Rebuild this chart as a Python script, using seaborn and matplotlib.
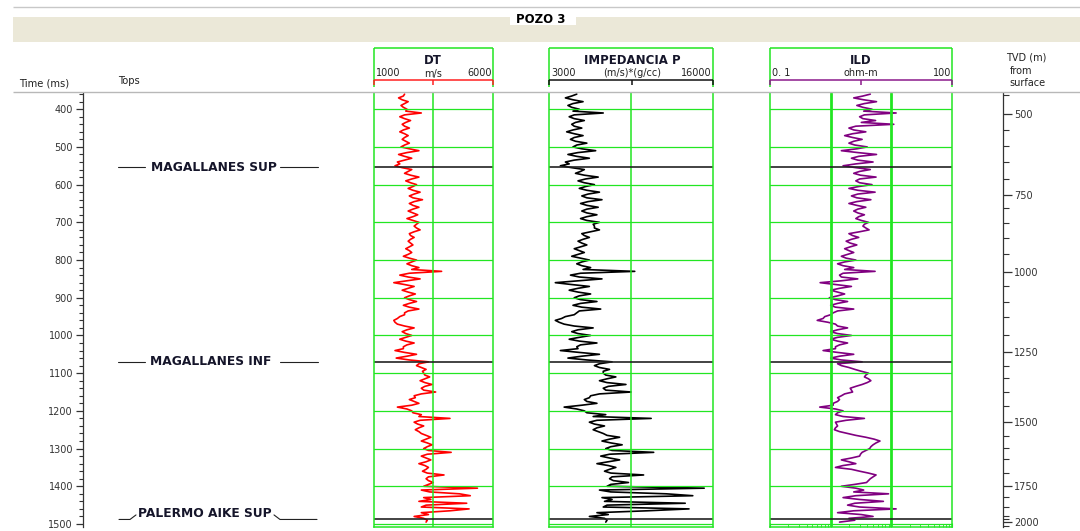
import numpy as np
import pandas as pd
import matplotlib
matplotlib.use("Agg")
import matplotlib.pyplot as plt
import matplotlib.transforms as mtransforms
from matplotlib.lines import Line2D
from matplotlib.patches import Rectangle
from matplotlib.ticker import MultipleLocator
import seaborn as sns

W, H = 1080, 531

# ---------------- data (5 ms samples) ----------------
time_ms = list(range(360, 1500, 5))

dt_vel = [2300, 2250, 2050, 2200, 2450, 2300, 2150, 2250, 2400, 2350,
          3000, 2300, 2100, 2300, 2550, 2350, 2200, 2300, 2500, 2250,
          2100, 2300, 2450, 2300, 2200, 2350, 2500, 2300, 2150, 2500,
          2900, 2400, 2050, 2300, 2600, 2300, 2000, 2100, 1900, 2200,
          2600, 2450, 2300, 2550, 2900, 2600, 2350, 2550, 2800, 2650,
          2450, 2650, 2950, 2700, 2500, 2650, 3050, 2700, 2500, 2650,
          2900, 2650, 2450, 2650, 2850, 2650, 2400, 2650, 2900, 2800,
          2700, 2800, 2950, 2700, 2500, 2550, 2700, 2550, 2450, 2550,
          2650, 2500, 2350, 2500, 2600, 2450, 2250, 2500, 2800, 2600,
          2400, 2600, 2900, 2600, 3850, 2500, 2100, 2450, 2950, 2400,
          1850, 2300, 2700, 2450, 2200, 2450, 2750, 2500, 2300, 2500,
          2800, 2500, 2250, 2500, 2900, 2450, 2300, 2300, 2100, 2000,
          1850, 1900, 2000, 2300, 2700, 2400, 2200, 2350, 2600, 2350,
          2100, 2350, 2700, 2400, 2250, 2250, 1900, 2300, 2800, 2400,
          1950, 2500, 3300, 2900, 2800, 3000, 3200, 3050, 3100, 3150,
          3350, 3150, 2950, 3150, 3450, 3150, 3000, 3100, 3600, 3000,
          2700, 2750, 2500, 2700, 2900, 2600, 2000, 2400, 2600, 2650,
          3000, 2900, 4200, 2950, 2700, 2850, 3100, 2900, 2750, 2900,
          3000, 3200, 3400, 3200, 3000, 3250, 3450, 3250, 3100, 3300,
          4250, 3250, 3000, 3200, 3400, 3200, 2900, 3150, 3300, 3200,
          3050, 3250, 3950, 3300, 3200, 3300, 3500, 3300, 3100, 5350,
          3000, 3350, 4600, 5050, 3100, 3400, 2900, 4900, 3200, 3000,
          5000, 4200, 3000, 3300, 2700, 3100, 3250, 3200]

imp_p = [5200, 4800, 4300, 4900, 5700, 4900, 4500, 4800, 5400, 4900,
         7300, 5000, 4600, 5000, 5800, 5100, 4800, 5000, 5600, 4900,
         4400, 5000, 5700, 5000, 4700, 5100, 6000, 5200, 4900, 5600,
         6700, 5300, 4500, 5200, 6200, 5000, 4300, 4600, 3900, 4800,
         5800, 5500, 5100, 5800, 6900, 5900, 5300, 5800, 6600, 5900,
         5400, 6000, 7000, 6100, 5600, 6000, 7200, 6100, 5500, 6000,
         6900, 6000, 5600, 6000, 6800, 6000, 5500, 6000, 7000, 6500,
         6600, 6600, 7000, 6300, 5600, 5800, 6200, 5700, 5300, 5600,
         6000, 5500, 5000, 5400, 5800, 5300, 4800, 5500, 6200, 5600,
         5200, 5600, 6300, 5700, 9800, 5500, 4700, 5400, 7200, 5300,
         3500, 4800, 6200, 5300, 4600, 5300, 6300, 5400, 5000, 5500,
         6800, 5500, 4900, 5600, 7100, 5400, 5200, 5000, 4300, 4000,
         3500, 3800, 4200, 5000, 6500, 5300, 4800, 5300, 6300, 5400,
         4600, 5400, 6800, 5500, 5200, 5300, 3900, 5400, 7000, 5600,
         4500, 6000, 8000, 7000, 6600, 7000, 7800, 7300, 7300, 7500,
         8300, 7600, 7000, 7600, 9100, 7700, 7300, 7500, 9500, 7000,
         6300, 6200, 5800, 6000, 6800, 5600, 4200, 5200, 5800, 6000,
         7500, 6500, 11100, 6800, 6200, 6600, 7400, 6800, 6500, 6900,
         7300, 7600, 8600, 7800, 7200, 7900, 8800, 7900, 7500, 8000,
         11300, 7800, 7100, 7800, 8600, 7700, 6800, 7700, 8300, 7800,
         7400, 7900, 10500, 8000, 7800, 8100, 9300, 7900, 7600, 15300,
         7000, 7900, 12300, 14400, 7200, 8000, 7400, 13800, 7600, 7300,
         14100, 10800, 6800, 7700, 6200, 7400, 7600, 7500]

ild = [4.5, 3.4, 2.4, 3.5, 5.7, 3.6, 2.7, 3.4, 4.8, 3.5,
       12.0, 3.6, 3.0, 3.4, 5.5, 3.2, 11.0, 2.6, 2.0, 2.4,
       3.8, 2.3, 1.7, 2.3, 3.3, 2.4, 2.0, 2.5, 4.0, 2.7,
       1.5, 2.8, 5.7, 2.9, 2.2, 2.8, 5.0, 2.6, 1.6, 2.6,
       4.5, 3.0, 2.4, 3.1, 5.6, 3.0, 2.6, 3.0, 4.8, 2.9,
       2.0, 2.8, 5.4, 2.8, 2.2, 2.7, 4.6, 2.7, 2.0, 2.7,
       3.8, 2.8, 2.4, 2.8, 3.6, 2.9, 2.6, 3.2, 4.2, 3.6,
       3.4, 3.8, 4.3, 3.0, 2.0, 2.3, 2.9, 2.2, 1.8, 2.1,
       2.7, 2.1, 1.7, 2.0, 2.4, 1.9, 1.5, 1.8, 2.6, 1.7,
       1.3, 1.6, 2.4, 1.7, 5.4, 1.6, 1.4, 1.5, 2.8, 1.5,
       0.67, 1.2, 2.2, 1.4, 1.0, 1.3, 1.7, 1.3, 0.95, 1.2,
       1.9, 1.3, 1.0, 1.2, 2.4, 1.3, 1.1, 1.0, 0.8, 0.75,
       0.6, 0.9, 1.2, 1.3, 1.9, 1.3, 1.0, 1.3, 2.2, 1.3,
       1.0, 1.3, 1.9, 1.4, 1.2, 1.2, 0.75, 1.3, 2.4, 1.4,
       1.0, 1.5, 3.3, 1.3, 1.5, 2.0, 2.5, 3.2, 4.2, 3.8,
       3.6, 4.2, 4.6, 4.0, 3.3, 2.6, 2.1, 2.2, 2.3, 1.7,
       1.5, 1.3, 1.4, 1.3, 1.1, 1.1, 0.66, 1.2, 1.6, 1.3,
       1.2, 1.6, 3.6, 1.8, 1.2, 1.25, 1.3, 1.2, 1.15, 1.4,
       1.9, 2.6, 3.8, 5.2, 6.5, 5.6, 5.0, 4.6, 4.4, 3.8,
       3.3, 3.1, 3.0, 2.2, 1.5, 2.0, 2.6, 1.6, 1.2, 2.2,
       3.0, 4.2, 5.6, 5.0, 4.5, 4.2, 3.9, 2.5, 1.5, 2.6,
       3.5, 2.4, 9.0, 2.6, 1.6, 3.0, 7.4, 2.5, 1.9, 3.0,
       12.0, 2.4, 1.3, 3.2, 5.0, 2.0, 2.5, 1.4]

tops_names = ["MAGALLANES SUP", "MAGALLANES INF", "PALERMO AIKE SUP"]
tops_time = [554, 1070, 1488]

time_ticks = [400, 500, 600, 700, 800, 900, 1000, 1100, 1200, 1300, 1400, 1500]

tvd_depth = [450, 500, 550, 600, 650, 700, 750, 800, 850, 900, 950, 1000,
             1050, 1100, 1150, 1200, 1250, 1300, 1350, 1400, 1450, 1500,
             1550, 1600, 1650, 1700, 1750, 1800, 1850, 1900, 1950, 2000, 2050]
tvd_time = [362, 413, 455, 497, 541, 584, 627, 663, 703, 742, 784, 831,
            869, 910, 952, 999, 1043, 1081, 1114, 1149, 1187, 1230,
            1266, 1298, 1328, 1364, 1398, 1429, 1456, 1478, 1487, 1495, 1506]

track_titles = ["DT", "IMPEDANCIA P", "ILD"]
track_units = ["m/s", "(m/s)*(g/cc)", "ohm-m"]
track_lo = ["1000", "3000", "0. 1"]
track_hi = ["6000", "16000", "100"]
dt_range = (1000, 6000)
imp_range = (3000, 16000)
ild_range = (0.1, 100)

assert len(dt_vel) == len(time_ms) == len(imp_p) == len(ild)

# ---------------- figure ----------------
sns.set_theme(style="white")
plt.rcParams['font.family'] = ['DejaVu Sans']

fig = plt.figure(figsize=(W / 100, H / 100), dpi=100)
fig.patch.set_facecolor('white')
pix = mtransforms.Affine2D().scale(1 / W, -1 / H).translate(0, 1) + fig.transFigure

GREEN = '#22e622'
TXT = '#15152a'
YLIM = (1508, 357)
CURVE_LW = 1.2


def ax_at(x0, x1, y0=93, y1=527):
    return fig.add_axes([x0 / W, 1 - y1 / H, (x1 - x0) / W, (y1 - y0) / H])


def hline(x0, x1, y, color, lw):
    fig.add_artist(Line2D([x0, x1], [y, y], transform=pix, color=color, lw=lw,
                          solid_capstyle='butt'))


def vline(x, y0, y1, color, lw):
    fig.add_artist(Line2D([x, x], [y0, y1], transform=pix, color=color, lw=lw,
                          solid_capstyle='butt'))


def ftext(x, y, s, **kw):
    fig.text(x, y, s, transform=pix, **kw)


# header band
hline(13, 1080, 7, '#c8c8c8', 1.0)
fig.add_artist(Rectangle((13, 16.5), 1067, 25.5, transform=pix,
                         facecolor='#ebe8d8', edgecolor='none'))
fig.add_artist(Rectangle((510, 16.5), 66, 8.5, transform=pix,
                         facecolor='white', edgecolor='none'))
ftext(541, 19.5, "POZO 3", ha='center', va='center', fontsize=8.5,
      fontweight='bold', color='black')
hline(13, 1080, 92, '#b8b8b8', 1.0)

ftext(19, 83.5, "Time (ms)", ha='left', va='center', fontsize=7.2, color='#222')
ftext(118, 81.5, "Tops", ha='left', va='center', fontsize=7.2, color='#222')
ftext(1006, 58, "TVD (m)", ha='left', va='center', fontsize=7, color='#222')
ftext(1010, 71, "from", ha='left', va='center', fontsize=7, color='#222')
ftext(1009, 83.5, "surface", ha='left', va='center', fontsize=7, color='#222')


def header(x0, x1, i, col, xc=None):
    if xc is None:
        xc = (x0 + x1) / 2
    hline(x0, x1, 48, GREEN, 1.1)
    vline(x0, 48, 87, GREEN, 1.1)
    vline(x1, 48, 87, GREEN, 1.1)
    ftext(xc, 61, track_titles[i], ha='center', va='center', fontsize=8.5,
          fontweight='bold', color=TXT)
    ftext(x0 + 2, 73.5, track_lo[i], ha='left', va='center', fontsize=7, color='#222')
    ftext(xc, 73.5, track_units[i], ha='center', va='center', fontsize=7, color='#222')
    ftext(x1 - 1, 73.5, track_hi[i], ha='right', va='center', fontsize=7, color='#222')
    hline(x0, x1, 79.5, col, 1.1)
    for xx in (x0, xc, x1):
        vline(xx, 79.5, 85, col, 1.1)


header(373.5, 493, 0, '#ff2020')
header(549, 713, 1, '#111111', xc=632)
header(770, 952, 2, '#8b1a8b', xc=861)


def track(x0, x1):
    ax = ax_at(x0, x1)
    ax.set_ylim(*YLIM)
    ax.set_facecolor('white')
    for s in ['left', 'right', 'bottom']:
        ax.spines[s].set_visible(True)
        ax.spines[s].set_color(GREEN)
        ax.spines[s].set_linewidth(1.1)
        ax.spines[s].set_zorder(5)
    ax.spines['top'].set_visible(False)
    ax.set_yticks([])
    ax.tick_params(left=False, labelleft=False, bottom=False, labelbottom=False)
    for t in time_ticks:
        ax.axhline(t, color=GREEN, lw=0.9, zorder=3)
    return ax


def finish(ax):
    ax.set_xlabel('')
    ax.set_ylabel('')
    ax.set_ylim(*YLIM)
    for t in tops_time:
        ax.axhline(t, color='#222222', lw=1.2, zorder=4)


# DT track
ax_dt = track(373.5, 493)
sns.lineplot(x=dt_vel, y=time_ms, orient='y', estimator=None, color='#ff0000',
             lw=CURVE_LW, ax=ax_dt, zorder=2)
ax_dt.set_xlim(*dt_range)
ax_dt.axvline(sum(dt_range) / 2, color=GREEN, lw=1.1, zorder=3)
finish(ax_dt)

# Impedance track
ax_imp = track(549, 713)
sns.lineplot(x=imp_p, y=time_ms, orient='y', estimator=None, color='#000000',
             lw=CURVE_LW, ax=ax_imp, zorder=2)
ax_imp.set_xlim(*imp_range)
ax_imp.axvline(sum(imp_range) / 2, color=GREEN, lw=1.1, zorder=3)
finish(ax_imp)

# ILD track
ax_ild = track(770, 952)
sns.lineplot(x=ild, y=time_ms, orient='y', estimator=None, color='#800080',
             lw=CURVE_LW, ax=ax_ild, zorder=2)
ax_ild.set_xscale('log')
ax_ild.set_xlim(*ild_range)
for v in (1, 10):
    ax_ild.axvline(v, color=GREEN, lw=2.0, zorder=3)
ax_ild.tick_params(axis='x', which='both', bottom=True, direction='in',
                   color=GREEN, labelbottom=False)
ax_ild.tick_params(axis='x', which='major', length=3, width=0.8)
ax_ild.tick_params(axis='x', which='minor', length=2, width=0.6)
finish(ax_ild)

# Time axis + tops column
ax_t = ax_at(83, 330)
ax_t.set_xlim(83, 330)
ax_t.set_ylim(*YLIM)
ax_t.patch.set_alpha(0)
for s in ['top', 'right', 'bottom']:
    ax_t.spines[s].set_visible(False)
ax_t.spines['left'].set_color('#333333')
ax_t.spines['left'].set_linewidth(0.9)
ax_t.set_xticks([])
ax_t.set_yticks(time_ticks)
ax_t.set_yticklabels([str(v) for v in time_ticks])
ax_t.yaxis.set_minor_locator(MultipleLocator(20))
ax_t.tick_params(axis='y', which='major', left=True, direction='out', length=5.2,
                 width=0.9, color='#333333', labelsize=7, labelcolor='#333333', pad=2)
ax_t.tick_params(axis='y', which='minor', left=True, direction='out', length=3,
                 width=0.8, color='#333333')

label_x = [213.5, 210.5, 204.5]
for k, (name, t) in enumerate(zip(tops_names, tops_time)):
    if k < 2:
        ty = t
        ax_t.plot([118, 145], [t, t], color='#222222', lw=0.8)
        ax_t.plot([280, 318], [t, t], color='#222222', lw=0.8)
    else:
        ty = t - 15
        ax_t.plot([119, 130, 136], [t, t, ty + 3], color='#222222', lw=0.8)
        ax_t.plot([274, 280, 317], [ty + 3, t, t], color='#222222', lw=0.8)
    ax_t.text(label_x[k], ty, name, ha='center', va='center', fontsize=8.8,
              fontweight='bold', color=TXT)

# TVD axis
ax_v = ax_at(990, 1003)
ax_v.set_ylim(*YLIM)
ax_v.patch.set_alpha(0)
for s in ['top', 'left', 'bottom']:
    ax_v.spines[s].set_visible(False)
ax_v.spines['right'].set_color('#333333')
ax_v.spines['right'].set_linewidth(0.9)
ax_v.set_xticks([])
maj_t = [t for d, t in zip(tvd_depth, tvd_time) if d % 250 == 0]
maj_l = [str(d) for d in tvd_depth if d % 250 == 0]
min_t = [t for d, t in zip(tvd_depth, tvd_time) if d % 250 != 0]
ax_v.yaxis.tick_right()
ax_v.set_yticks(maj_t)
ax_v.set_yticklabels(maj_l)
ax_v.set_yticks(min_t, minor=True)
ax_v.tick_params(axis='y', which='major', right=True, left=False, labelright=True,
                 labelleft=False, direction='out', length=6.5, width=0.9,
                 color='#333333', labelsize=7, labelcolor='#333333', pad=1.5)
ax_v.tick_params(axis='y', which='minor', right=True, left=False, direction='out',
                 length=4, width=0.8, color='#333333')

fig.savefig("out.png", dpi=100, facecolor='white')
